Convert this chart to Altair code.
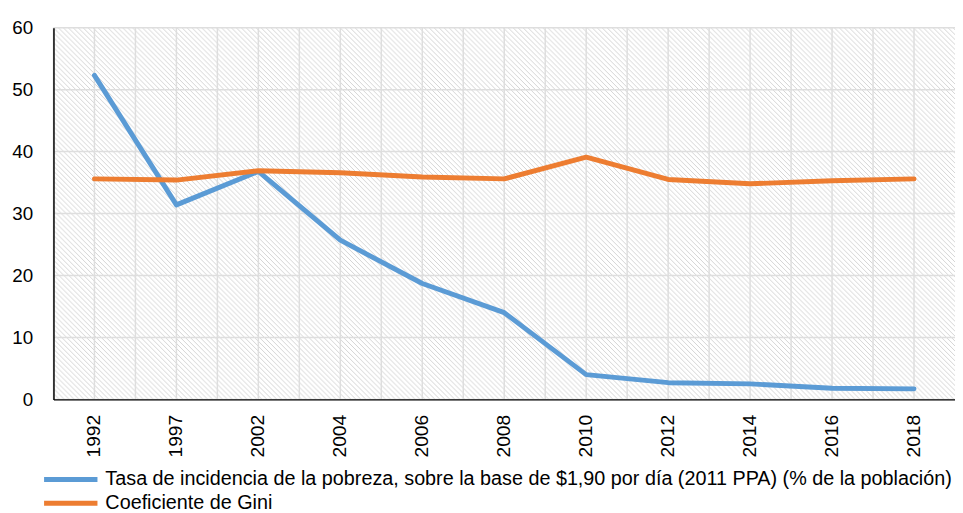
import altair as alt
import pandas as pd
import urllib.parse

years = ["1992", "1997", "2002", "2004", "2006", "2008", "2010", "2012", "2014", "2016", "2018"]
pobreza = [52.3, 31.4, 36.8, 25.7, 18.7, 14.0, 4.0, 2.7, 2.5, 1.8, 1.7]
gini = [35.6, 35.4, 36.9, 36.6, 35.9, 35.6, 39.1, 35.5, 34.8, 35.3, 35.6]
series = [
    "Tasa de incidencia de la pobreza, sobre la base de $1,90 por día (2011 PPA) (% de la población)",
    "Coeficiente de Gini",
]
colors = ["#5B9BD5", "#ED7D31"]
y_ticks = [0, 10, 20, 30, 40, 50, 60]

W, H = 912, 376
FONT = "Liberation Sans"
GRID = "#dedede"

rows = []
for i, y in enumerate(years):
    rows.append({"year": y, "serie": series[0], "valor": pobreza[i]})
    rows.append({"year": y, "serie": series[1], "valor": gini[i]})
df = pd.DataFrame(rows)
cats = pd.DataFrame({"year": years})
ticks_df = pd.DataFrame({"v": y_ticks})

# diagonal hatch texture (Excel-like pattern fill) as an SVG image
svg = (
    f'<svg xmlns="http://www.w3.org/2000/svg" width="{W}" height="{H}">'
    '<defs><pattern id="h" patternUnits="userSpaceOnUse" width="5" height="5">'
    '<path d="M-1,-1L6,6M-1,4L1,6M4,-1L6,1" stroke="#d4d4d4" stroke-width="1.0"/>'
    '</pattern></defs>'
    f'<rect width="{W}" height="{H}" fill="#ffffff"/>'
    f'<rect width="{W}" height="{H}" fill="url(#h)"/></svg>'
)
hatch_url = "data:image/svg+xml;charset=utf-8," + urllib.parse.quote(svg)

xscale = alt.Scale(type="band", paddingInner=0, paddingOuter=0, domain=years)

x_axis = alt.Axis(
    labelAngle=-90,
    labelFont=FONT,
    labelFontSize=19.5,
    labelColor="#000000",
    labelPadding=15,
    ticks=False,
    grid=False,
    domainColor="#000000",
    domainWidth=1.5,
    zindex=2,
)
y_axis = alt.Axis(
    values=y_ticks,
    labelFont=FONT,
    labelFontSize=19,
    labelColor="#000000",
    labelPadding=21,
    ticks=False,
    grid=False,
    domainColor="#000000",
    domainWidth=1.5,
    zindex=2,
)
yscale = alt.Scale(domain=[0, 60], nice=False)

bg = alt.Chart(pd.DataFrame({"k": [0]})).mark_image(
    url=hatch_url, width=W, height=H, aspect=False, align="left", baseline="top"
).encode(x=alt.value(0), y=alt.value(0))

grid_h = alt.Chart(ticks_df).mark_rule(color=GRID, strokeWidth=1.5).encode(
    y=alt.Y("v:Q", scale=yscale, axis=y_axis, title=None)
)
grid_c = alt.Chart(cats).mark_rule(color=GRID, strokeWidth=1.5).encode(
    x=alt.X("year:N", scale=xscale, bandPosition=0.5, axis=x_axis, title=None)
)
grid_e = alt.Chart(cats).mark_rule(color=GRID, strokeWidth=1.5).encode(
    x=alt.X("year:N", scale=xscale, bandPosition=0, axis=x_axis, title=None)
)

lines = alt.Chart(df).mark_line(strokeWidth=5, strokeCap="round", strokeJoin="round").encode(
    x=alt.X("year:N", scale=xscale, bandPosition=0.5, title=None, axis=x_axis),
    y=alt.Y("valor:Q", scale=yscale, title=None, axis=y_axis),
    color=alt.Color(
        "serie:N",
        scale=alt.Scale(domain=series, range=colors),
        legend=alt.Legend(
            title=None,
            orient="none",
            legendX=7.5,
            legendY=447,
            symbolType="M-5.4,0H5.4",
            symbolSize=100,
            symbolStrokeWidth=5,
            labelFont=FONT,
            labelFontSize=20,
            labelColor="#000000",
            labelLimit=0,
            labelOffset=25,
            rowPadding=4,
            padding=0,
        ),
    ),
    order=alt.Order("serie:N"),
)

chart = alt.layer(bg, grid_h, grid_c, grid_e, lines).properties(
    width=W,
    height=H,
    autosize=alt.AutoSizeParams(type="none"),
    padding={"left": 46, "top": 17, "right": 0, "bottom": 112},
).configure_view(stroke=None)

chart.save("out.html", embed_options={"renderer": "svg", "actions": False})
